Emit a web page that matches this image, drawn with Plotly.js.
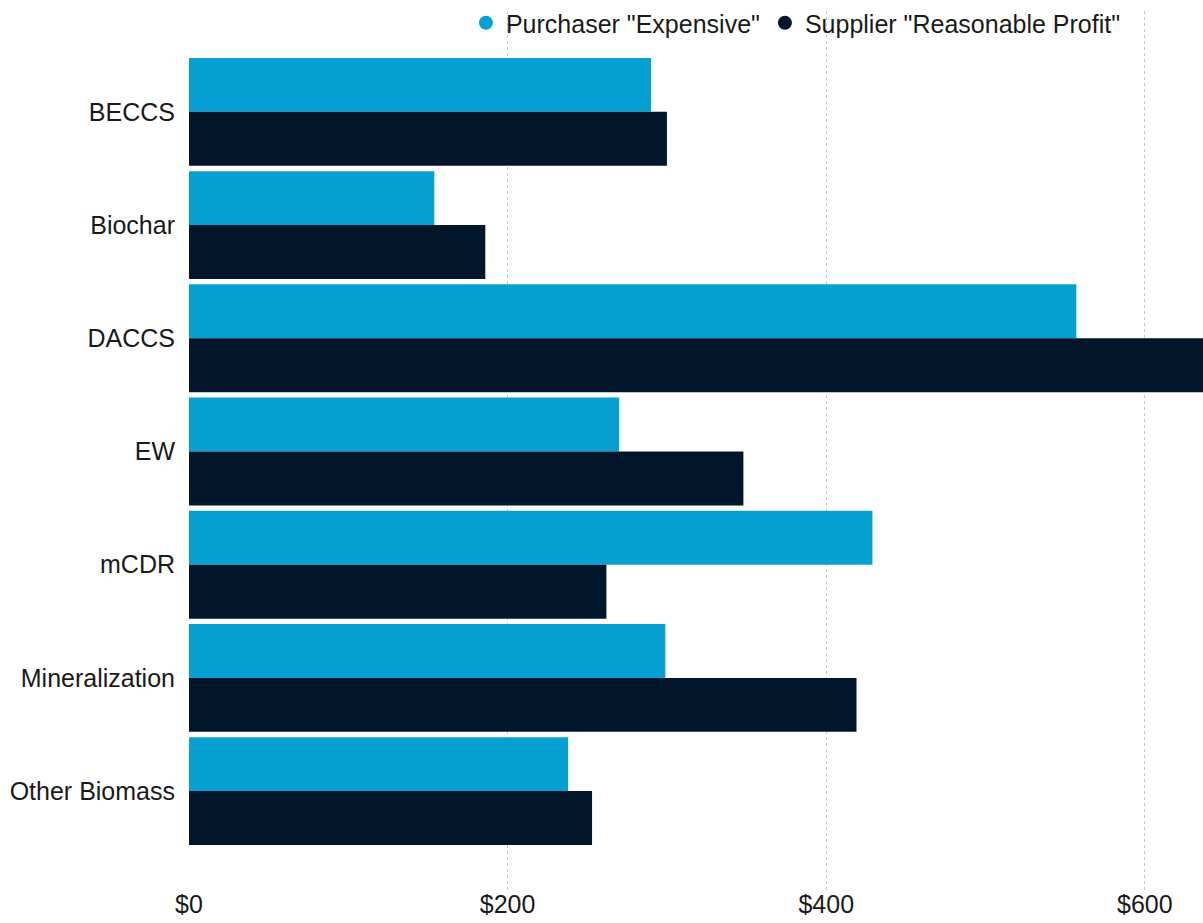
<!DOCTYPE html>
<html>
<head>
<meta charset="utf-8">
<script src="https://cdn.plot.ly/plotly-3.0.1.min.js"></script>
<style>html,body{margin:0;padding:0;background:#fff;}#chart{width:1203px;height:923px;}</style>
</head>
<body>
<div id="chart"></div>
<script>
const categories = ["BECCS", "Biochar", "DACCS", "EW", "mCDR", "Mineralization", "Other Biomass"];
const purchaserExpensive = [290, 154, 557, 270, 429, 299, 238];
const supplierReasonableProfit = [300, 186, 660, 348, 262, 419, 253];
const xTickVals = [0, 200, 400, 600];
const xTickText = ["$0", "$200", "$400", "$600"];
const seriesNames = ['Purchaser "Expensive"', 'Supplier "Reasonable Profit"'];
const colors = ["#06a0d3", "#02162b"];

const font = "Liberation Sans, Arial, sans-serif";

const traces = [
  {type: "bar", orientation: "h", name: seriesNames[0], y: categories, x: purchaserExpensive,
   marker: {color: colors[0]}, showlegend: false, hoverinfo: "x+y"},
  {type: "bar", orientation: "h", name: seriesNames[1], y: categories, x: supplierReasonableProfit,
   marker: {color: colors[1]}, showlegend: false, hoverinfo: "x+y"},
  {type: "scatter", mode: "markers", name: seriesNames[0], x: [null], y: [null],
   marker: {color: colors[0], size: 14, symbol: "circle"}},
  {type: "scatter", mode: "markers", name: seriesNames[1], x: [null], y: [null],
   marker: {color: colors[1], size: 14, symbol: "circle"}}
];

const layout = {
  width: 1203, height: 923,
  margin: {l: 189, r: 0, t: 10, b: 30, pad: 0},
  paper_bgcolor: "#fff", plot_bgcolor: "#fff",
  font: {family: font, size: 25, color: "#1a1a1a"},
  barmode: "group", bargap: 0.047, bargroupgap: 0,
  showlegend: true,
  legend: {orientation: "h", x: 0.924, xanchor: "right", y: 1.012, yanchor: "top",
           bgcolor: "rgba(0,0,0,0)", font: {family: font, size: 25, color: "#1a1a1a"},
           itemwidth: 30, tracegroupgap: 0},
  xaxis: {range: [0, 636.5], tickvals: xTickVals, ticktext: xTickText,
          showgrid: true, gridcolor: "#c8c8c8", griddash: "dot", gridwidth: 1,
          zeroline: false, showline: false, ticks: "", automargin: false,
          ticklabelstandoff: -6,
          tickfont: {family: font, size: 25, color: "#1a1a1a"}, fixedrange: true},
  yaxis: {type: "category", categoryorder: "array", categoryarray: categories,
          range: [6.9, -0.891], showgrid: false, zeroline: false, showline: false,
          ticks: "outside", ticklen: 8, tickcolor: "rgba(0,0,0,0)", automargin: false,
          tickfont: {family: font, size: 25, color: "#1a1a1a"}, fixedrange: true}
};

Plotly.newPlot("chart", traces, layout, {displayModeBar: false, staticPlot: true});
</script>
</body>
</html>
